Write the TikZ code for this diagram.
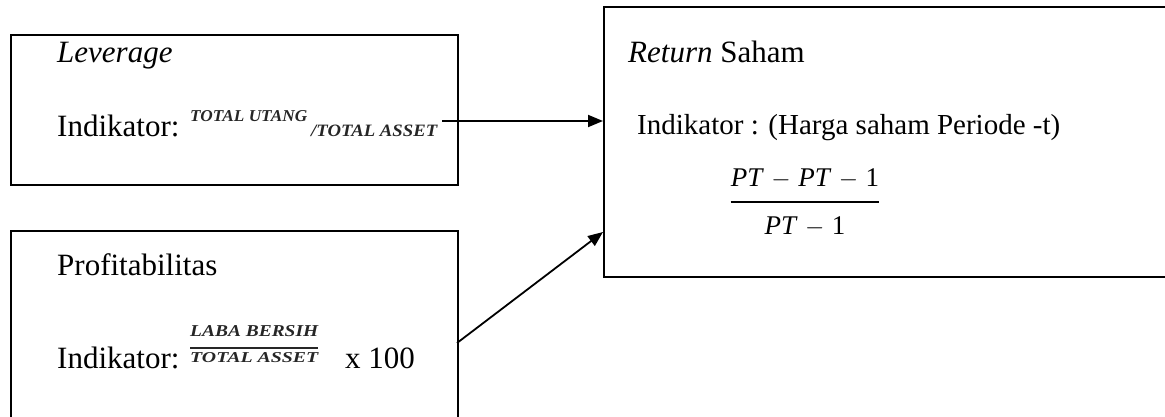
\documentclass[tikz,border=0pt]{standalone}
\usepackage{amsmath}
\usepackage{fontspec}
\setmainfont{Liberation Serif}
\usetikzlibrary{arrows.meta}
\tikzset{
  box/.style={draw, line width=1.8pt, anchor=north west, inner sep=0pt},
  txt/.style={anchor=base west, inner sep=0pt, font=\fontsize{31}{35}\selectfont},
  frm/.style={anchor=base west, inner sep=0pt, text=black!85, font=\fontsize{17}{19}\selectfont\bfseries\itshape},
  mth/.style={anchor=base, inner sep=0pt, font=\fontsize{27}{31}\selectfont},
  arr/.style={line width=1.8pt, -{Triangle[length=15pt,width=12pt]}}
}
\begin{document}
\begin{tikzpicture}[x=1pt,y=-1pt]
\useasboundingbox (0,0) rectangle (1165,417);
\clip (0,0) rectangle (1165,417);
% boxes
\node[box, minimum width=447pt, minimum height=150pt] (lev) at (10,34) {};
\node[box, minimum width=447pt, minimum height=200pt] (prof) at (10,230) {};
\node[box, minimum width=580pt, minimum height=270pt] (ret) at (603,6) {};
% leverage texts
\node[txt] (levt) at (57,63) {\itshape Leverage};
\node[txt] (levi) at (57,137) {Indikator:};
\node[frm] (levn) at (190,122) {\resizebox{117pt}{11pt}{TOTAL UTANG}};
\node[frm] (levd) at (311,137) {\resizebox{126pt}{11.5pt}{/TOTAL ASSET}};
% profitabilitas texts
\node[txt] (proft) at (57,275) {Profitabilitas};
\node[txt] (profi) at (57,368) {Indikator:};
\node[frm] (profn) at (190,336) {\resizebox{128pt}{11pt}{LABA BERSIH}};
\node[frm] (profd) at (190,362) {\resizebox{128pt}{10pt}{TOTAL ASSET}};
\draw[line width=1.6pt, black!85] (profd.west |- 0,348) -- (profd.east |- 0,348) coordinate (pbar);
\node[txt] (profx) at (345,368) {x 100};
% return texts
\node[txt] (rett) at (628,63) {\itshape Return\/\upshape{} Saham};
\node[txt, font=\fontsize{29}{34}\selectfont] (reti) at (637,135) {Indikator : (Harga saham Periode -t)};
\node[mth] (retn) at (805,186) {\textit{PT}\;$-$\;\textit{PT}\;$-$\;1};
\node[mth] (retd) at (805,234) {\textit{PT}\;$-$\;1};
\draw[line width=1.6pt] (retn.west |- 0,202) -- (retn.east |- 0,202) coordinate (rbar);
% arrows
\coordinate (a1) at (442,121);
\draw[arr] (a1) -- (a1 -| ret.west);
\coordinate (a2) at (457,343);
\coordinate (b2) at (603,232);
\draw[arr] (a2) -- (b2);
\end{tikzpicture}
\end{document}
